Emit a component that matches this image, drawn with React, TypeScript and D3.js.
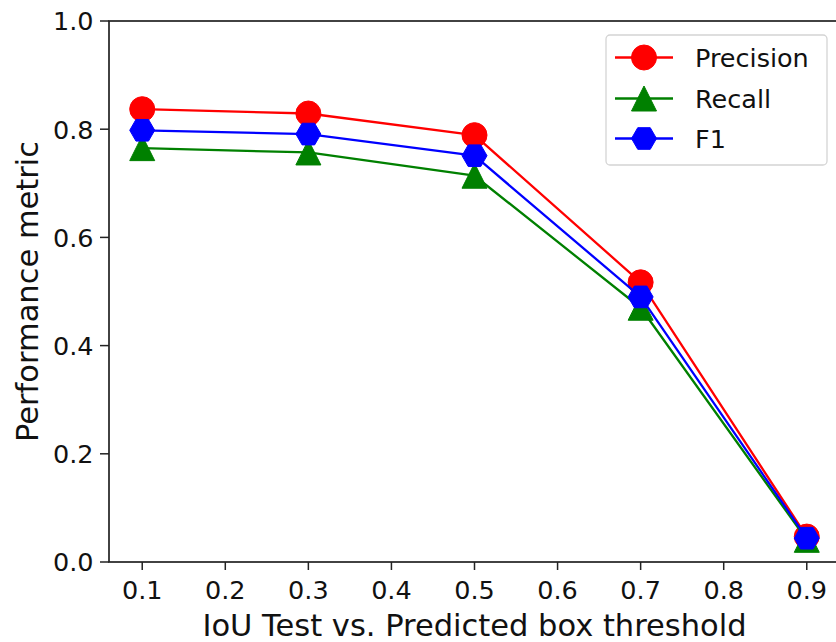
import React from "react";
import * as d3 from "d3";

// IoU thresholds on the x axis
const thresholds = [0.1, 0.3, 0.5, 0.7, 0.9];

// Metric values per threshold
const precision = [0.837, 0.829, 0.789, 0.517, 0.047];
const recall = [0.765, 0.757, 0.714, 0.470, 0.041];
const f1 = [0.798, 0.791, 0.751, 0.490, 0.044];

const xTicks = [0.1, 0.2, 0.3, 0.4, 0.5, 0.6, 0.7, 0.8, 0.9];
const yTicks = [0.0, 0.2, 0.4, 0.6, 0.8, 1.0];

const seriesNames = ["Precision", "Recall", "F1"];
const seriesColors = ["#ff0000", "#008000", "#0000ff"];
const seriesShapes = ["circle", "triangle", "hexagon"];

const W = 836;
const H = 642;
const M = { left: 109, right: 840, top: 21, bottom: 562 };
const FONT = "'DejaVu Sans', sans-serif";
const MS = 25; // marker size in px

function markerPath(shape: string, s: number): string {
  const r = s / 2;
  if (shape === "circle") {
    const p = d3.path();
    p.arc(0, 0, r, 0, Math.PI * 2);
    p.closePath();
    return p.toString();
  }
  if (shape === "triangle") {
    return `M0,${-r}L${-r},${r}L${r},${r}Z`;
  }
  // flat-topped hexagon
  const pts = d3.range(6).map((i) => {
    const a = (Math.PI / 3) * i;
    return [r * Math.cos(a), r * Math.sin(a)];
  });
  return "M" + pts.map((p) => p.join(",")).join("L") + "Z";
}

export default function App() {
  const x = d3.scaleLinear().domain([0.06, 0.94]).range([M.left, M.right]);
  const y = d3.scaleLinear().domain([0, 1]).range([M.bottom, M.top]);
  const line = d3
    .line<number>()
    .x((_, i) => x(thresholds[i]))
    .y((d) => y(d));

  const series = [precision, recall, f1];
  const fmt = d3.format(".1f");

  const legendX = 606;
  const legendY = 35;
  const legendW = 221;
  const legendH = 130;
  const rowY = [57.5, 98.5, 138.5];

  return (
    <svg
      width={W}
      height={H}
      style={{ position: "absolute", left: 0, top: 0, background: "#fff" }}
      fontFamily={FONT}
    >
      <rect x={0} y={0} width={W} height={H} fill="#fff" />

      {/* series: line then markers, drawn in order */}
      {series.map((vals, si) => (
        <g key={seriesNames[si]}>
          <path
            d={line(vals) || ""}
            fill="none"
            stroke={seriesColors[si]}
            strokeWidth={2.3}
            strokeLinejoin="round"
          />
          {vals.map((v, i) => (
            <path
              key={i}
              d={markerPath(seriesShapes[si], MS)}
              transform={`translate(${x(thresholds[i])},${y(v)})`}
              fill={seriesColors[si]}
              stroke={seriesColors[si]}
              strokeWidth={1}
            />
          ))}
        </g>
      ))}

      {/* axes frame */}
      <rect
        x={M.left}
        y={M.top}
        width={M.right - M.left}
        height={M.bottom - M.top}
        fill="none"
        stroke="#222"
        strokeWidth={1.7}
      />

      {/* x ticks */}
      {xTicks.map((t) => (
        <g key={"x" + t}>
          <line x1={x(t)} x2={x(t)} y1={M.bottom} y2={M.bottom + 8} stroke="#222" strokeWidth={1.5} />
          <text x={x(t)} y={598.5} textAnchor="middle" fontSize={25.5} fill="#111">
            {fmt(t)}
          </text>
        </g>
      ))}

      {/* y ticks */}
      {yTicks.map((t) => (
        <g key={"y" + t}>
          <line x1={M.left - 9} x2={M.left} y1={y(t)} y2={y(t)} stroke="#222" strokeWidth={1.5} />
          <text x={93.5} y={y(t) + 9.3} textAnchor="end" fontSize={25.5} fill="#111">
            {fmt(t)}
          </text>
        </g>
      ))}

      {/* axis titles */}
      <text x={(M.left + M.right) / 2} y={636} textAnchor="middle" fontSize={30.5} fill="#111">
        IoU Test vs. Predicted box threshold
      </text>
      <text
        transform={`translate(37.5,${(M.top + M.bottom) / 2}) rotate(-90)`}
        textAnchor="middle"
        fontSize={30.5}
        fill="#111"
      >
        Performance metric
      </text>

      {/* legend */}
      <rect
        x={legendX}
        y={legendY}
        width={legendW}
        height={legendH}
        rx={4}
        fill="#fff"
        fillOpacity={0.8}
        stroke="#d4d4d4"
        strokeWidth={1.3}
      />
      {seriesNames.map((n, i) => (
        <g key={n}>
          <line x1={615} x2={673} y1={rowY[i]} y2={rowY[i]} stroke={seriesColors[i]} strokeWidth={2.3} />
          <path
            d={markerPath(seriesShapes[i], MS)}
            transform={`translate(644,${rowY[i]})`}
            fill={seriesColors[i]}
            stroke={seriesColors[i]}
            strokeWidth={1}
          />
          <text x={695} y={rowY[i] + 9.5} fontSize={25.5} fill="#111">
            {n}
          </text>
        </g>
      ))}
    </svg>
  );
}
